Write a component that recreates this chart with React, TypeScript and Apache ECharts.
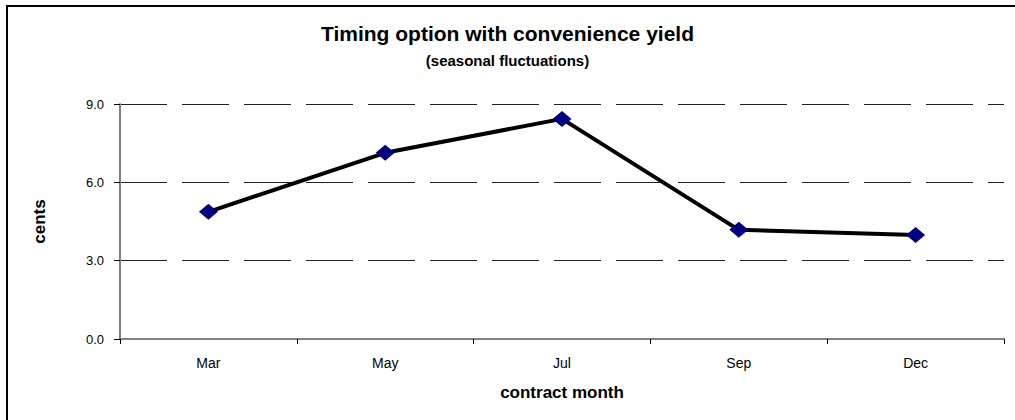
import React, { useEffect, useRef } from "react";
import * as echarts from "echarts";

const titleText = "Timing option with convenience yield";
const subtitleText = "(seasonal fluctuations)";
const yAxisName = "cents";
const xAxisName = "contract month";
const months = ["Mar", "May", "Jul", "Sep", "Dec"];
const cents = [4.87, 7.13, 8.43, 4.18, 3.98];
const yMin = 0;
const yMax = 9;
const yStep = 3;

export default function App() {
  const ref = useRef<HTMLDivElement>(null);
  useEffect(() => {
    if (!ref.current) return;
    const chart = echarts.init(ref.current, undefined, { renderer: "svg" });
    const font = "'Liberation Sans', Arial, Helvetica, sans-serif";
    chart.setOption({
      animation: false,
      backgroundColor: "#ffffff",
      textStyle: { fontFamily: font },
      title: [
        {
          text: titleText,
          left: "center",
          top: 18,
          textStyle: { fontFamily: font, fontSize: 21, fontWeight: "bold", color: "#000" },
        },
        {
          text: subtitleText,
          left: "center",
          top: 48,
          textStyle: { fontFamily: font, fontSize: 15, fontWeight: "bold", color: "#000" },
        },
      ],
      graphic: [
        {
          type: "rect",
          shape: { x: 7, y: 6, width: 1200, height: 600 },
          style: { fill: "none", stroke: "#000", lineWidth: 2 },
          silent: true,
        },
      ],
      grid: { left: 120, right: 11, top: 104, bottom: 81, containLabel: false },
      xAxis: {
        type: "category",
        data: months,
        boundaryGap: true,
        name: xAxisName,
        nameLocation: "middle",
        nameGap: 45,
        nameTextStyle: { fontFamily: font, fontSize: 17, fontWeight: "bold", color: "#000" },
        axisLine: { lineStyle: { color: "#808080", width: 2 } },
        axisTick: { show: true, alignWithLabel: false, length: 5, lineStyle: { color: "#000", width: 1 } },
        axisLabel: { color: "#000", fontSize: 14, margin: 17, fontFamily: font },
        splitLine: { show: false },
      },
      yAxis: {
        type: "value",
        min: yMin,
        max: yMax,
        interval: yStep,
        name: yAxisName,
        nameLocation: "middle",
        nameGap: 72,
        nameRotate: 90,
        nameTextStyle: { fontFamily: font, fontSize: 17, fontWeight: "bold", color: "#000" },
        axisLine: { show: true, lineStyle: { color: "#808080", width: 2 } },
        axisTick: { show: true, length: 6, lineStyle: { color: "#000", width: 1 } },
        axisLabel: {
          color: "#000",
          fontSize: 13,
          margin: 16,
          fontFamily: font,
          formatter: (v: number) => v.toFixed(1),
        },
        splitLine: {
          show: true,
          lineStyle: { color: "#222", width: 1, type: [47, 15] },
        },
      },
      series: [
        {
          type: "line",
          data: cents,
          symbol: "diamond",
          symbolSize: [19, 16],
          lineStyle: { color: "#000", width: 4 },
          itemStyle: { color: "#000080", borderWidth: 0 },
          z: 3,
        },
      ],
    });
    return () => chart.dispose();
  }, []);
  return (
    <div
      ref={ref}
      style={{ position: "absolute", left: 0, top: 0, width: 1015, height: 420 }}
    />
  );
}
